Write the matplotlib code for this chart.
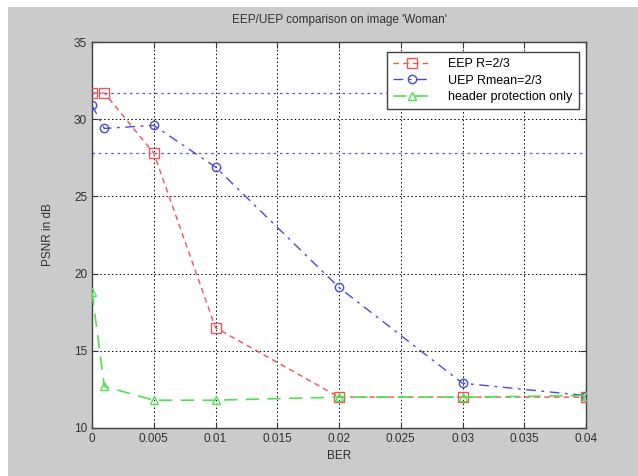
import matplotlib
matplotlib.use('Agg')
import matplotlib.pyplot as plt
from matplotlib.patches import Rectangle

ber = [0, 0.001, 0.005, 0.01, 0.02, 0.03, 0.04]
psnr_eep = [31.7, 31.7, 27.8, 16.5, 12.0, 12.0, 12.0]
psnr_uep = [30.9, 29.4, 29.6, 26.9, 19.1, 12.9, 12.1]
psnr_header = [18.8, 12.7, 11.8, 11.8, 12.0, 12.0, 12.1]
ref_levels = [31.7, 27.8]

xticks = [0, 0.005, 0.01, 0.015, 0.02, 0.025, 0.03, 0.035, 0.04]
xticklabels = ['0', '0.005', '0.01', '0.015', '0.02', '0.025', '0.03', '0.035', '0.04']
yticks = [10, 15, 20, 25, 30, 35]

plt.rcParams['font.family'] = ['Liberation Sans', 'DejaVu Sans']

fig = plt.figure(figsize=(6.38, 4.76), dpi=100)
fig.patch.set_facecolor('white')
fig.patches.append(Rectangle((8 / 638, 0), 630 / 638, 469 / 476, transform=fig.transFigure,
                             facecolor='#cbcbcb', edgecolor='none', zorder=-10))

ax = fig.add_axes([92 / 638, 1 - 428 / 476, 494 / 638, 386 / 476])
ax.set_facecolor('white')

for lvl in ref_levels:
    ax.axhline(lvl, color='#5050d8', linestyle=(0, (2, 3)), linewidth=0.9, zorder=1)

ax.plot(ber, psnr_eep, color='#e85555', linestyle=(0, (4, 3)), marker='s', markersize=6.5,
        markerfacecolor='none', markeredgewidth=1.0, linewidth=1.0, label='EEP R=2/3', zorder=3)
ax.plot(ber, psnr_uep, color='#4a4ad8', linestyle=(0, (7, 4, 2, 4)), marker='o', markersize=6,
        markerfacecolor='none', markeredgewidth=1.0, linewidth=1.0, label='UEP Rmean=2/3', zorder=3)
ax.plot(ber, psnr_header, color='#50e050', linestyle=(0, (8, 5)), marker='^', markersize=6,
        markerfacecolor='none', markeredgewidth=1.0, linewidth=1.2,
        label='header protection only', zorder=3)

ax.set_xlim(0, 0.04)
ax.set_ylim(10, 35)
ax.set_xticks(xticks)
ax.set_xticklabels(xticklabels)
ax.set_yticks(yticks)
ax.tick_params(direction='in', top=True, right=True, labelsize=8.5, length=4, colors='#303030')
ax.grid(True, color='black', linestyle=(0, (1.5, 2.5)), linewidth=0.7)
ax.set_axisbelow(True)
for s in ax.spines.values():
    s.set_color('#404040')
    s.set_linewidth(1.0)

ax.set_xlabel('BER', fontsize=8.5, color='#303030')
ax.set_ylabel('PSNR in dB', fontsize=8.5, color='#303030', labelpad=14)
ax.set_title("EEP/UEP comparison on image 'Woman'", fontsize=8.5, color='#303030', pad=14)

leg = ax.legend(loc='upper right', bbox_to_anchor=(0.99, 0.98), fontsize=9, fancybox=False,
                framealpha=1, edgecolor='#404040', borderpad=0.5, handlelength=3.0,
                handletextpad=1.4, labelspacing=0.35, borderaxespad=0.2)
leg.get_frame().set_linewidth(1.0)

plt.savefig('out.png', dpi=100)
